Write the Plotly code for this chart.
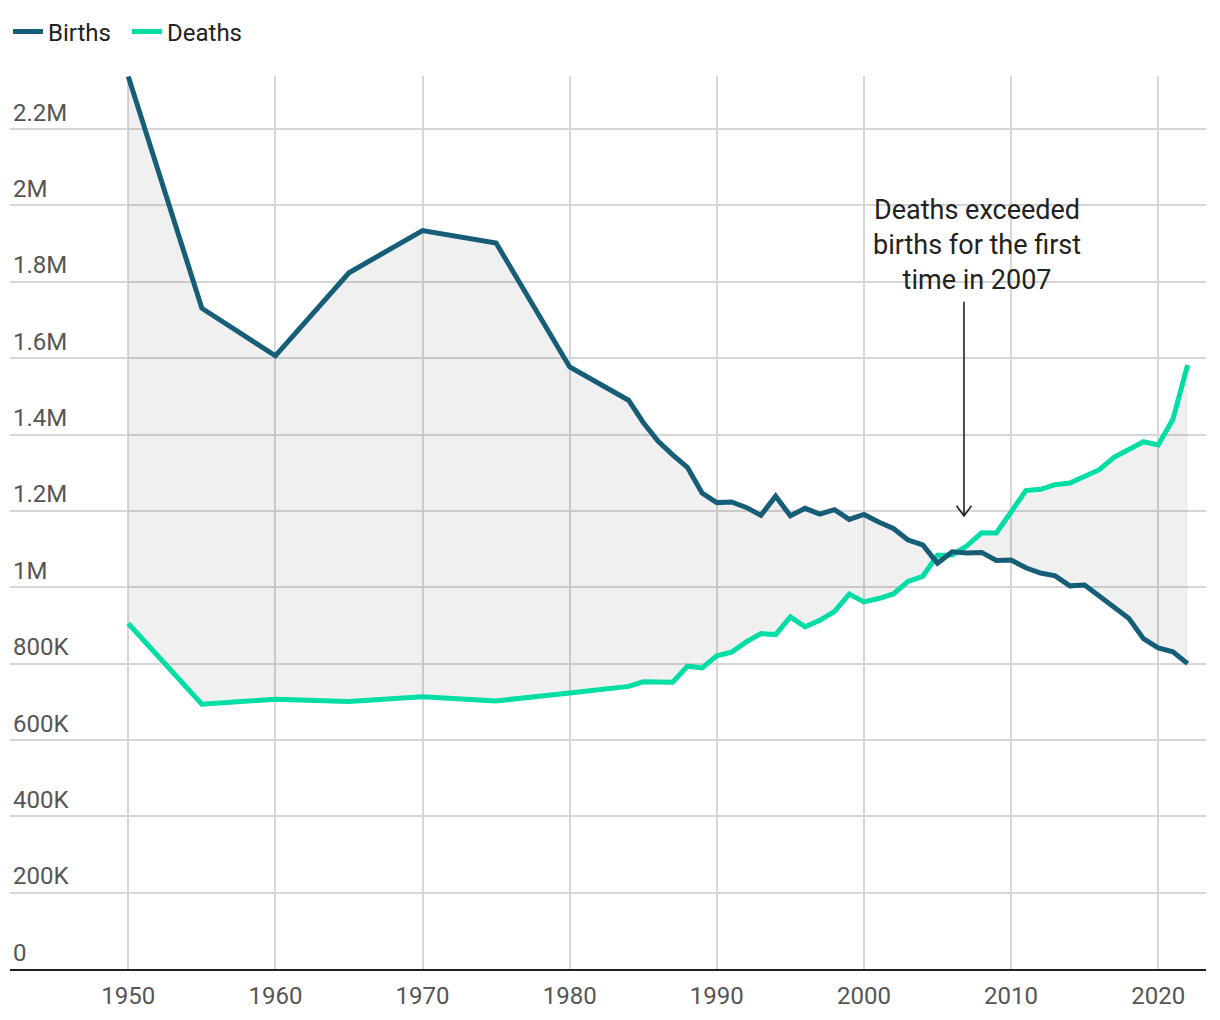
import plotly.graph_objects as go

years = [1950, 1955, 1960, 1965, 1970, 1975, 1980] + list(range(1984, 2023))

births = [2337507, 1730692, 1606041, 1823697, 1934239, 1901440, 1576889,
          1489780, 1431577, 1382946, 1346658, 1314006, 1246802, 1221585,
          1223245, 1208989, 1188282, 1238328, 1187064, 1206555, 1191665,
          1203147, 1177669, 1190547, 1170662, 1153855, 1123610, 1110721,
          1062530, 1092674, 1089818, 1091156, 1070035, 1071304, 1050806,
          1037231, 1029816, 1003609, 1005721, 976978, 946146, 918400,
          865239, 840835, 831000, 799728]

deaths = [904876, 693523, 706599, 700438, 712962, 702275, 722801,
          740247, 752283, 750620, 751172, 793014, 788594, 820305,
          829797, 856643, 878532, 875933, 922139, 896211, 913402,
          936484, 982031, 961653, 970331, 982379, 1014951, 1028602,
          1083796, 1084451, 1108334, 1142407, 1141865, 1197014, 1253066,
          1256359, 1268436, 1273004, 1290444, 1307748, 1340397, 1362470,
          1381093, 1372755, 1439856, 1582033]

x_ticks = [1950, 1960, 1970, 1980, 1990, 2000, 2010, 2020]
y_ticks = [0, 200000, 400000, 600000, 800000, 1000000, 1200000, 1400000,
           1600000, 1800000, 2000000, 2200000]
y_tick_labels = ["0", "200K", "400K", "600K", "800K", "1M", "1.2M", "1.4M",
                 "1.6M", "1.8M", "2M", "2.2M"]

annotation_text = "Deaths exceeded<br>births for the first<br>time in 2007"
annotation_year = 2006.8

BIRTH_COLOR = "#165e78"
DEATH_COLOR = "#00dea6"
FONT = "Roboto"
GRID = "#d6d6d6"
W, H = 1204, 1004

fig = go.Figure()

# fill band between the two series
fig.add_trace(go.Scatter(x=years, y=deaths, mode="lines", line=dict(width=0),
                         showlegend=False, hoverinfo="skip"))
fig.add_trace(go.Scatter(x=years, y=births, mode="lines", line=dict(width=0),
                         fill="tonexty", fillcolor="rgba(0,0,0,0.06)",
                         showlegend=False, hoverinfo="skip"))

fig.add_trace(go.Scatter(x=years, y=deaths, mode="lines", name="Deaths",
                         line=dict(color=DEATH_COLOR, width=5),
                         legendrank=2))
fig.add_trace(go.Scatter(x=years, y=births, mode="lines", name="Births",
                         line=dict(color=BIRTH_COLOR, width=5),
                         legendrank=1))

# annotation text
fig.add_annotation(x=annotation_year + 0.9, y=1896000, xref="x", yref="y",
                   text=annotation_text, showarrow=False,
                   font=dict(family=FONT, size=27, color="#222222"),
                   align="center", xanchor="center", yanchor="middle")

# arrow (line + open chevron head)
fig.add_shape(type="path", xref="x", yref="y",
              xsizemode="pixel", ysizemode="pixel",
              xanchor=annotation_year, yanchor=1187000,
              path="M 0,214 L 0,0 M -7.5,10 L 0,0 L 7.5,10",
              line=dict(color="#222222", width=1.6))

fig.update_layout(
    width=W, height=H,
    paper_bgcolor="white", plot_bgcolor="white",
    margin=dict(l=2, r=6, t=68, b=43, autoexpand=False),
    font=dict(family=FONT, size=24, color="#555555"),
    showlegend=True,
    legend=dict(orientation="h", xref="container", yref="container",
                x=0.0, y=1 - 24 / H, xanchor="left", yanchor="middle",
                font=dict(family=FONT, size=24, color="#222222"),
                entrywidth=74, entrywidthmode="pixels",
                bgcolor="rgba(0,0,0,0)", traceorder="normal"),
    hovermode=False,
)

fig.update_xaxes(range=[1941.96, 2023.25], tickvals=x_ticks,
                 ticktext=[str(v) for v in x_ticks], automargin=False,
                 showgrid=True, gridcolor=GRID, gridwidth=1.5,
                 showline=True, linecolor="#222222", linewidth=2,
                 zeroline=False, ticks="", ticklabelstandoff=4,
                 tickfont=dict(family=FONT, size=24, color="#555555"))

fig.update_yaxes(range=[0, 2339000], tickvals=y_ticks, ticktext=y_tick_labels,
                 automargin=False,
                 showgrid=True, gridcolor=GRID, gridwidth=1.5,
                 zeroline=False, showline=False, ticks="",
                 ticklabelposition="inside top",
                 tickfont=dict(family=FONT, size=24, color="#555555"))

fig.write_html("out.html")
